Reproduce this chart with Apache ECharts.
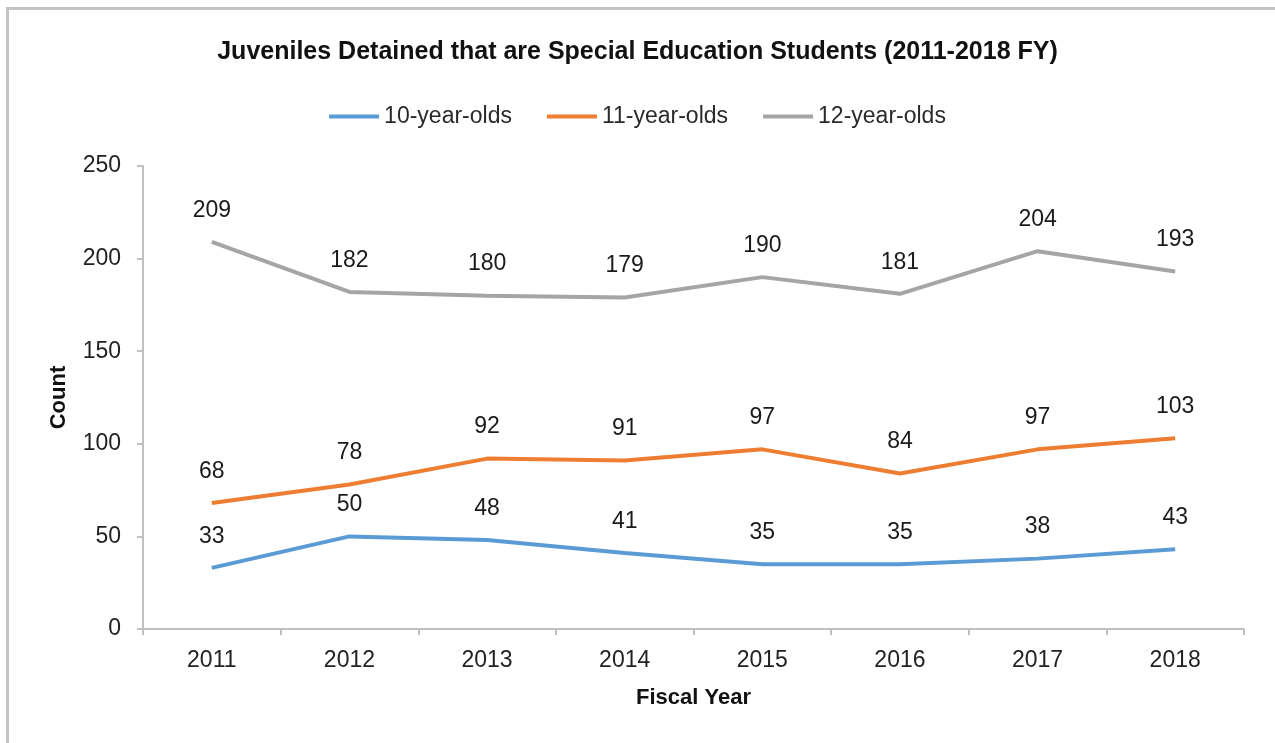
<!DOCTYPE html>
<html>
<head>
<meta charset="utf-8">
<script src="https://cdn.jsdelivr.net/npm/echarts@6/dist/echarts.min.js"></script>
<style>
html,body{margin:0;padding:0;background:#fff;}
#chart{width:1275px;height:743px;}
</style>
</head>
<body>
<div id="chart"></div>
<script>
const categories = ['2011','2012','2013','2014','2015','2016','2017','2018'];
const seriesNames = ['10-year-olds','11-year-olds','12-year-olds'];
const age10 = [33, 50, 48, 41, 35, 35, 38, 43];
const age11 = [68, 78, 92, 91, 97, 84, 97, 103];
const age12 = [209, 182, 180, 179, 190, 181, 204, 193];
const colors = ['#5B9BD5', '#ED7D31', '#A5A5A5'];
const yTicks = { min: 0, max: 250, interval: 50 };

const FONT = '"Liberation Sans", Arial, sans-serif';
const chart = echarts.init(document.getElementById('chart'), null, {renderer: 'canvas'});

function mkSeries(name, data, color) {
  return {
    name: name,
    type: 'line',
    data: data,
    symbol: 'circle',
    symbolSize: 0.1,
    itemStyle: { color: color },
    lineStyle: { color: color, width: 4 },
    label: {
      show: true,
      position: 'top',
      distance: 20,
      color: '#1a1a1a',
      fontSize: 23,
      fontFamily: FONT
    },
    emphasis: { disabled: true },
    animation: false
  };
}

chart.setOption({
  backgroundColor: '#ffffff',
  animation: false,
  color: colors,
  graphic: [{
    type: 'rect',
    shape: { x: 7.5, y: 8.5, width: 1400, height: 900 },
    style: { fill: 'none', stroke: '#c3c3c3', lineWidth: 3 },
    silent: true
  }],
  title: {
    text: 'Juveniles Detained that are Special Education Students (2011-2018 FY)',
    left: 'center',
    top: 35,
    textStyle: { fontFamily: FONT, fontWeight: 'bold', fontSize: 25, color: '#111' }
  },
  legend: {
    data: seriesNames,
    top: 100,
    left: 'center',
    itemWidth: 50,
    itemHeight: 4,
    itemGap: 35,
    icon: 'rect',
    textStyle: { fontFamily: FONT, fontSize: 23, color: '#2a2a2a' }
  },
  grid: { left: 143, right: 31, top: 166, bottom: 114, containLabel: false },
  xAxis: {
    type: 'category',
    data: categories,
    boundaryGap: true,
    name: 'Fiscal Year',
    nameLocation: 'middle',
    nameGap: 58,
    nameTextStyle: { fontFamily: FONT, fontWeight: 'bold', fontSize: 22, color: '#111' },
    axisLine: { lineStyle: { color: '#bfbfbf', width: 2 } },
    axisTick: { show: true, alignWithLabel: false, length: 6, lineStyle: { color: '#bfbfbf', width: 2 } },
    axisLabel: { fontFamily: FONT, fontSize: 23, color: '#222', margin: 20 },
    splitLine: { show: false }
  },
  yAxis: {
    type: 'value',
    min: yTicks.min,
    max: yTicks.max,
    interval: yTicks.interval,
    name: 'Count',
    nameLocation: 'middle',
    nameGap: 73,
    nameRotate: 90,
    nameTextStyle: { fontFamily: FONT, fontWeight: 'bold', fontSize: 22, color: '#111' },
    axisLine: { show: true, lineStyle: { color: '#bfbfbf', width: 2 } },
    axisTick: { show: true, length: 6, lineStyle: { color: '#bfbfbf', width: 2 } },
    axisLabel: { fontFamily: FONT, fontSize: 23, color: '#222', margin: 22 },
    splitLine: { show: false }
  },
  series: [
    mkSeries(seriesNames[0], age10, colors[0]),
    mkSeries(seriesNames[1], age11, colors[1]),
    mkSeries(seriesNames[2], age12, colors[2])
  ]
});
</script>
</body>
</html>
